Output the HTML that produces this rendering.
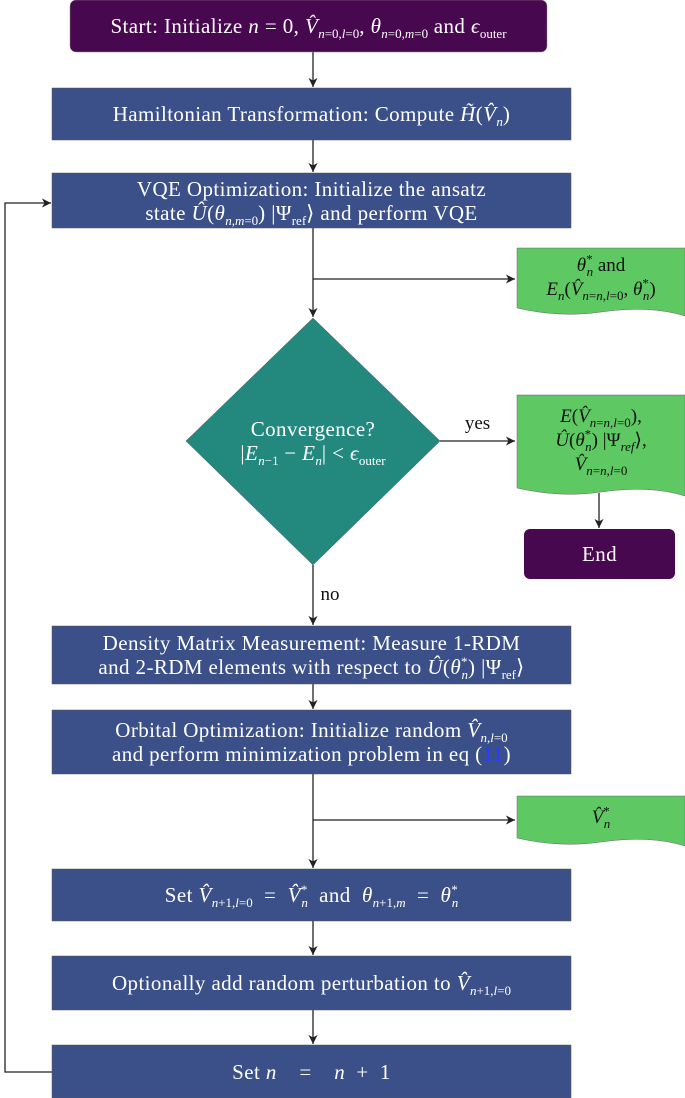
<!DOCTYPE html>
<html><head><meta charset="utf-8"><style>
body{margin:0;width:685px;height:1098px;background:#fff;position:relative;overflow:hidden;font-family:"Liberation Serif",serif;}
.t{position:absolute;display:flex;align-items:center;justify-content:center;text-align:center;color:#fff;font-size:21px;line-height:24px;letter-spacing:0.4px;}
.t>span{display:block;}
.k{color:#111;font-size:19px;letter-spacing:0;}
i{font-style:italic}
sub,sup{font-size:13px;line-height:0;letter-spacing:0}
</style></head><body>
<svg width="685" height="1098" style="position:absolute;left:0;top:0">
<defs><marker id="a" markerWidth="8" markerHeight="8" refX="7" refY="4" orient="auto"><path d="M0,0.5 L7,4 L0,7.5 L2,4z" fill="#222"/></marker></defs>
<g stroke="#222" stroke-width="1.3" fill="none">
<line x1="313" y1="52" x2="313" y2="87" marker-end="url(#a)"/>
<line x1="313" y1="140" x2="313" y2="172" marker-end="url(#a)"/>
<line x1="313" y1="228" x2="313" y2="317" marker-end="url(#a)"/>
<line x1="313" y1="279" x2="515" y2="279" marker-end="url(#a)"/>
<line x1="440" y1="441" x2="515" y2="441" marker-end="url(#a)"/>
<line x1="599" y1="493" x2="599" y2="528" marker-end="url(#a)"/>
<line x1="313" y1="565" x2="313" y2="625" marker-end="url(#a)"/>
<line x1="313" y1="684" x2="313" y2="709" marker-end="url(#a)"/>
<line x1="313" y1="774" x2="313" y2="868" marker-end="url(#a)"/>
<line x1="313" y1="820" x2="515" y2="820" marker-end="url(#a)"/>
<line x1="313" y1="921" x2="313" y2="955" marker-end="url(#a)"/>
<line x1="313" y1="1010" x2="313" y2="1044" marker-end="url(#a)"/>
<polyline points="52,1072 5,1072 5,203 51,203" marker-end="url(#a)"/>
</g>
<rect x="70" y="0" width="477" height="52" rx="6" fill="#48084f" stroke="#888" stroke-width="0.5"/>
<rect x="52" y="88" width="519" height="52" fill="#3b5088" stroke="#555" stroke-width="0.5"/>
<rect x="52" y="173" width="519" height="55" fill="#3b5088" stroke="#555" stroke-width="0.5"/>
<path d="M517,248 H685 V316 Q650,305 601,312 Q560,318 517,308 Z" fill="#5ec862" stroke="#666" stroke-width="0.5"/>
<polygon points="313,318 440,441 313,565 186,441" fill="#23897f" stroke="#555" stroke-width="0.5"/>
<path d="M517,395 H685 V496 Q650,485 601,492 Q560,498 517,488 Z" fill="#5ec862" stroke="#666" stroke-width="0.5"/>
<rect x="524" y="529" width="151" height="50" rx="6" fill="#48084f"/>
<rect x="52" y="626" width="519" height="58" fill="#3b5088" stroke="#555" stroke-width="0.5"/>
<rect x="52" y="710" width="519" height="64" fill="#3b5088" stroke="#555" stroke-width="0.5"/>
<path d="M517,796 H685 V846 Q650,835 601,842 Q560,848 517,838 Z" fill="#5ec862" stroke="#666" stroke-width="0.5"/>
<rect x="52" y="869" width="519" height="52" fill="#3b5088" stroke="#555" stroke-width="0.5"/>
<rect x="52" y="956" width="519" height="54" fill="#3b5088" stroke="#555" stroke-width="0.5"/>
<rect x="52" y="1045" width="519" height="53" fill="#3b5088" stroke="#555" stroke-width="0.5"/>
</svg>
<div class="t" style="left:70px;top:0;width:477px;height:52px"><span>Start: Initialize <i>n</i> = 0, <i>V̂</i><sub><i>n</i>=0,<i>l</i>=0</sub>, <i>θ</i><sub><i>n</i>=0,<i>m</i>=0</sub> and <i>ϵ</i><sub>outer</sub></span></div>
<div class="t" style="left:52px;top:88px;width:519px;height:52px"><span>Hamiltonian Transformation: Compute <i>H̃</i>(<i>V̂<sub>n</sub></i>)</span></div>
<div class="t" style="left:52px;top:173px;width:519px;height:55px"><span>VQE Optimization: Initialize the ansatz<br>state <i>Û</i>(<i>θ</i><sub><i>n</i>,<i>m</i>=0</sub>) |Ψ<sub>ref</sub>⟩ and perform VQE</span></div>
<div class="t k" style="left:517px;top:250px;width:168px;height:56px"><span><i>θ</i><sup>*</sup><sub style="margin-left:-6px"><i>n</i></sub> and<br><i>E<sub>n</sub></i>(<i>V̂</i><sub><i>n</i>=<i>n</i>,<i>l</i>=0</sub>, <i>θ</i><sup>*</sup><sub style="margin-left:-6px"><i>n</i></sub>)</span></div>
<div class="t" style="left:186px;top:408px;width:254px;height:66px"><span>Convergence?<br>|<i>E</i><sub><i>n</i>−1</sub> − <i>E<sub>n</sub></i>| &lt; <i>ϵ</i><sub>outer</sub></span></div>
<div class="t k" style="left:455px;top:413px;width:45px;height:22px"><span>yes</span></div>
<div class="t k" style="left:517px;top:396px;width:168px;height:90px"><span><i>E</i>(<i>V̂</i><sub><i>n</i>=<i>n</i>,<i>l</i>=0</sub>),<br><i>Û</i>(<i>θ</i><sup>*</sup><sub style="margin-left:-6px"><i>n</i></sub>) |Ψ<sub><i>ref</i></sub>⟩,<br><i>V̂</i><sub><i>n</i>=<i>n</i>,<i>l</i>=0</sub></span></div>
<div class="t" style="left:524px;top:529px;width:151px;height:50px"><span>End</span></div>
<div class="t k" style="left:313px;top:584px;width:34px;height:22px"><span>no</span></div>
<div class="t" style="left:52px;top:626px;width:519px;height:58px"><span>Density Matrix Measurement: Measure 1-RDM<br>and 2-RDM elements with respect to <i>Û</i>(<i>θ</i><sup>*</sup><sub style="margin-left:-6px"><i>n</i></sub>) |Ψ<sub>ref</sub>⟩</span></div>
<div class="t" style="left:52px;top:710px;width:519px;height:64px"><span>Orbital Optimization: Initialize random <i>V̂</i><sub><i>n</i>,<i>l</i>=0</sub><br>and perform minimization problem in eq (<span style="color:#2a3cff">11</span>)</span></div>
<div class="t k" style="left:517px;top:798px;width:168px;height:40px"><span><i>V̂</i><sup>*</sup><sub style="margin-left:-6px"><i>n</i></sub></span></div>
<div class="t" style="left:52px;top:869px;width:519px;height:52px"><span style="white-space:pre">Set <i>V̂</i><sub><i>n</i>+1,<i>l</i>=0</sub>  =  <i>V̂</i><sup>*</sup><sub style="margin-left:-6px"><i>n</i></sub>  and  <i>θ</i><sub><i>n</i>+1,<i>m</i></sub>  =  <i>θ</i><sup>*</sup><sub style="margin-left:-6px"><i>n</i></sub></span></div>
<div class="t" style="left:52px;top:956px;width:519px;height:54px"><span>Optionally add random perturbation to <i>V̂</i><sub><i>n</i>+1,<i>l</i>=0</sub></span></div>
<div class="t" style="left:52px;top:1045px;width:519px;height:53px"><span style="white-space:pre">Set <i>n</i>    =    <i>n</i>  +  1</span></div>
</body></html>
